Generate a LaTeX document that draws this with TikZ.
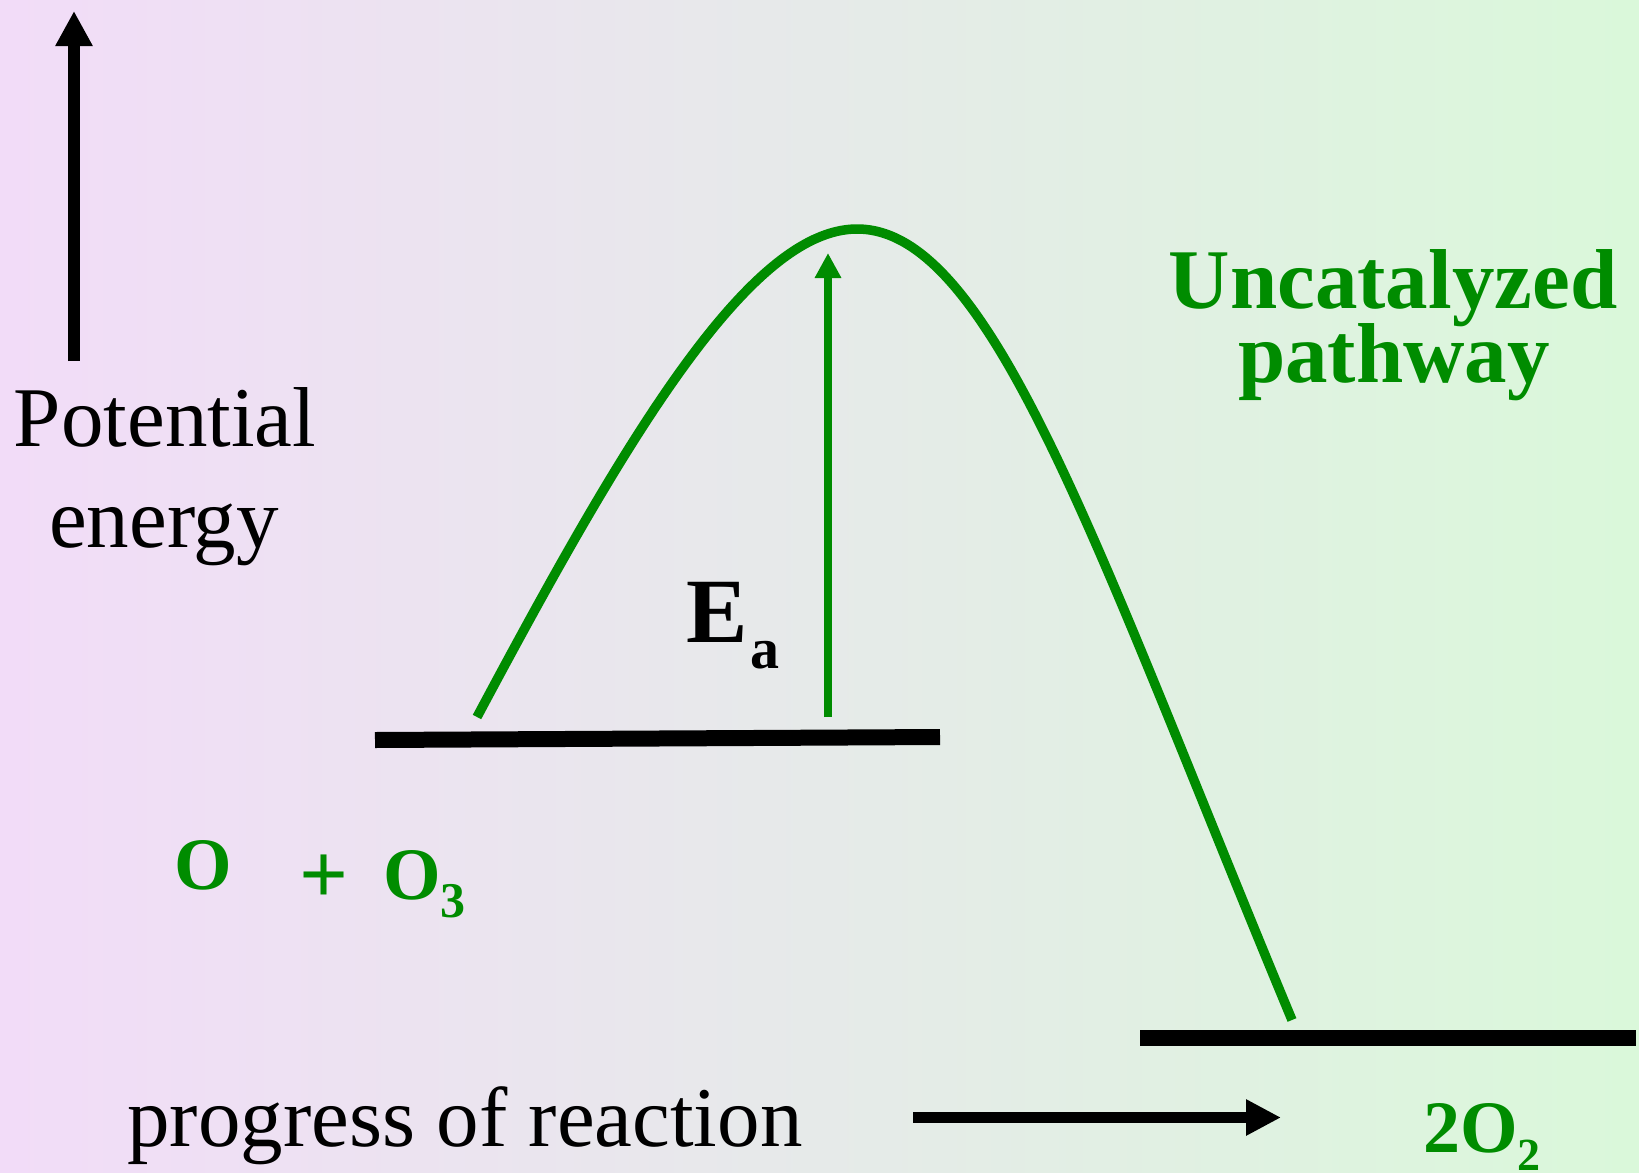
\documentclass[tikz,border=0pt]{standalone}
\usepackage{fontspec}
\setmainfont{Liberation Serif}
\usetikzlibrary{arrows.meta}
\definecolor{pathgreen}{RGB}{0,140,0}
\definecolor{bgleft}{RGB}{242,220,248}
\definecolor{bgright}{RGB}{218,248,218}
\begin{document}
\begin{tikzpicture}[x=1pt,y=-1pt,
  lbl/.style={inner sep=0pt, outer sep=0pt, anchor=base},
  reg/.style={lbl, font=\fontsize{85}{85}\selectfont},
  boldbig/.style={lbl, text=pathgreen, font=\fontsize{85}{85}\selectfont\bfseries},
  chem/.style={lbl, text=pathgreen, font=\fontsize{74}{74}\selectfont\bfseries},
  level/.style={line width=16pt, black, line cap=butt},
  curve/.style={line width=9.5pt, pathgreen, line cap=butt},
  bigarrow/.style={line width=12pt, black, line cap=butt},
]
\shade[left color=bgleft, right color=bgright] (0,0) rectangle (1639,1173);
\useasboundingbox (0,0) rectangle (1639,1173);

% axis arrows
\coordinate (ya0) at (74,361);
\coordinate (ya1) at (74,11);
\draw[bigarrow, -{Triangle[length=35pt,width=35pt]}] (ya0) -- (ya1);
\coordinate (xa0) at (913,1117.5);
\coordinate (xa1) at (1281,1117.5);
\draw[bigarrow, line width=11.5pt, -{Triangle[length=35pt,width=34pt]}] (xa0) -- (xa1);

% energy levels
\coordinate (r1) at (375,740);
\coordinate (r2) at (940,737);
\draw[level] (r1) -- (r2);
\coordinate (p1) at (1140,1037.5);
\coordinate (p2) at (1636,1037.5);
\draw[level] (p1) -- (p2);

% reaction curve
\coordinate (cs) at (477,717);
\coordinate (ct) at (857,229);
\coordinate (ce) at (1292,1020);
\draw[curve] (cs) .. controls (622,445) and (748,229) .. (ct)
                  .. controls (993,229) and (1098,554) .. (ce);

% activation energy arrow
\coordinate (ea0) at (828,717);
\coordinate (ea1) at (828,253);
\draw[pathgreen, line width=8.7pt, line cap=butt, -{Triangle[length=25pt,width=25pt]}] (ea0) -- (ea1);

% labels
\node[reg] (pot) at (165,446) {Potential};
\node[reg] (en) at (164,547) {energy};
\node[reg] (prog) at (465,1146) {progress of reaction};
\node[lbl, anchor=base west, font=\fontsize{92}{92}\selectfont\bfseries] (ea) at (686,642)
  {E\hspace{3pt}\raisebox{-26pt}{\fontsize{58}{58}\selectfont a}};
\node[boldbig] (unc) at (1393,308) {Uncatalyzed};
\node[boldbig] (pw) at (1394,382) {pathway};
\node[chem] (o1) at (203.5,889) {O};
\node[chem, font=\fontsize{86}{86}\selectfont\bfseries] (plus) at (324,903) {+};
\node[chem, anchor=base west] (o3) at (383,899)
  {O\raisebox{-18pt}{\fontsize{50}{50}\selectfont 3}};
\node[chem, anchor=base west] (o2) at (1423,1152)
  {2O\raisebox{-18pt}{\fontsize{46}{46}\selectfont 2}};
\end{tikzpicture}
\end{document}
